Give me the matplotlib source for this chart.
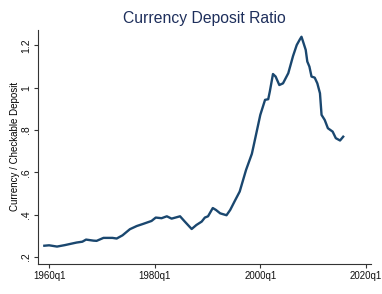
import matplotlib
matplotlib.use("Agg")
import matplotlib.pyplot as plt

years = [1959.1, 1960.0, 1961.5, 1963.0, 1965.2, 1966.3, 1967.0, 1968.4, 1969.0, 1970.3,
         1972.0, 1972.8, 1973.9, 1975.3, 1976.6, 1977.8, 1979.4, 1980.2, 1981.3, 1982.3,
         1983.2, 1984.8, 1985.7, 1987.0, 1987.9, 1988.9, 1989.5, 1990.1, 1991.0, 1991.6,
         1992.4, 1993.6, 1994.3, 1995.2, 1996.1, 1997.3, 1998.4, 1998.7, 2000.0, 2000.9,
         2001.5, 2001.8, 2002.4, 2002.9, 2003.6, 2004.3, 2005.3, 2006.2, 2006.9, 2007.5,
         2007.8, 2008.1, 2008.6, 2008.9, 2009.3, 2009.7, 2010.3, 2010.8, 2011.3, 2011.6,
         2012.2, 2012.8, 2013.7, 2014.3, 2015.1, 2015.7]
ratio = [0.253, 0.255, 0.249, 0.256, 0.268, 0.272, 0.282, 0.277, 0.276, 0.290,
         0.290, 0.287, 0.302, 0.331, 0.346, 0.356, 0.370, 0.386, 0.383, 0.392,
         0.381, 0.392, 0.367, 0.332, 0.351, 0.367, 0.386, 0.392, 0.431, 0.422,
         0.406, 0.397, 0.422, 0.466, 0.509, 0.611, 0.687, 0.721, 0.871, 0.942,
         0.945, 0.981, 1.064, 1.052, 1.012, 1.020, 1.068, 1.149, 1.201, 1.228,
         1.240, 1.217, 1.178, 1.123, 1.099, 1.052, 1.047, 1.020, 0.973, 0.871,
         0.847, 0.808, 0.792, 0.761, 0.750, 0.768]

xticks = [1960, 1980, 2000, 2020]
xticklabels = ["1960q1", "1980q1", "2000q1", "2020q1"]
yticks = [0.2, 0.4, 0.6, 0.8, 1.0, 1.2]
yticklabels = [".2", ".4", ".6", ".8", "1", "1.2"]

plt.rcParams['font.family'] = ['Liberation Sans', 'DejaVu Sans']

fig = plt.figure(figsize=(3.82, 2.94), dpi=100)
ax = fig.add_axes([0.0995, 0.103, 0.8715, 0.795])
ax.plot(years, ratio, color="#1a476f", lw=1.7, solid_joinstyle="round")
ax.set_xlim(1957.9, 2020.95)
ax.set_ylim(0.168, 1.272)
ax.set_xticks(xticks)
ax.set_xticklabels(xticklabels, fontsize=7)
ax.set_yticks(yticks)
ax.set_yticklabels(yticklabels, fontsize=7.5, rotation=90, va="center")
for s in ["top", "right"]:
    ax.spines[s].set_visible(False)
for s in ["left", "bottom"]:
    ax.spines[s].set_color("#333333")
    ax.spines[s].set_linewidth(0.8)
ax.tick_params(direction="out", length=3, width=0.8, color="#333333", pad=2, labelcolor="#111111")
ax.set_ylabel("Currency / Checkable Deposit", fontsize=7, labelpad=1)
ax.set_title("Currency Deposit Ratio", fontsize=11.3, color="#1e2f5c", pad=5)
fig.savefig("out.png", dpi=100)
